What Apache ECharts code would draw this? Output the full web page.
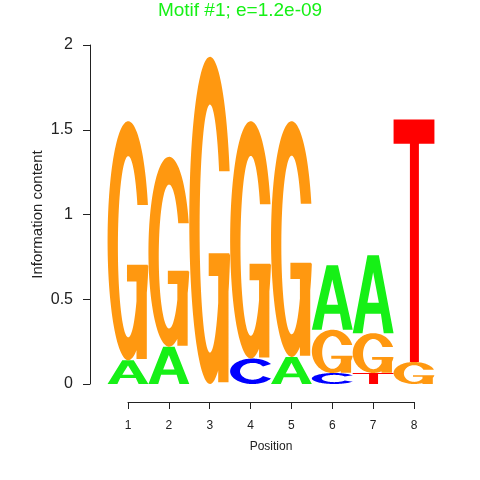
<!DOCTYPE html>
<html>
<head>
<meta charset="utf-8">
<script src="https://cdn.jsdelivr.net/npm/echarts@6/dist/echarts.min.js"></script>
<style>html,body{margin:0;padding:0;background:#fff}#c{width:480px;height:480px}</style>
</head>
<body>
<div id="c"></div>
<script>
// ---- data ----
const positions = [1, 2, 3, 4, 5, 6, 7, 8];
const bases = ['A', 'C', 'G', 'T'];
const heightA = [0.14, 0.22, 0.00, 0.00, 0.16, 0.38, 0.46, 0.00];
const heightC = [0.00, 0.00, 0.00, 0.15, 0.00, 0.065, 0.00, 0.00];
const heightG = [1.41, 1.12, 1.93, 1.40, 1.39, 0.255, 0.235, 0.13];
const heightT = [0.00, 0.00, 0.00, 0.00, 0.00, 0.00, 0.065, 1.43];
const yTicks = [0, 0.5, 1, 1.5, 2];
const titleText = 'Motif #1; e=1.2e-09';

// ---- glyph outlines (100x100 box) ----
function arc(cx, cy, rx, ry, a0, a1) {
  const pts = [];
  const n = Math.max(2, Math.ceil(Math.abs(a1 - a0) / 3));
  for (let i = 0; i <= n; i++) {
    const a = (a0 + (a1 - a0) * i / n) * Math.PI / 180;
    pts.push([cx + rx * Math.cos(a), cy + ry * Math.sin(a)]);
  }
  return pts;
}
function poly(pts) {
  return 'M' + pts.map(p => p[0].toFixed(2) + ' ' + p[1].toFixed(2)).join(' L') + ' Z';
}
function rect(x0, y0, x1, y1) {
  return poly([[x0, y0], [x1, y0], [x1, y1], [x0, y1]]);
}
const glyphA = 'M0 100 L36 0 L64 0 L100 100 L76 100 L69 75 L31 75 L24 100 Z M36 61 L64 61 L50 22 Z';
const glyphT = rect(0, 0, 100, 10) + ' ' + rect(40, 0, 62, 100);
const glyphC = poly(arc(50, 50, 50, 50, 35, 325).concat(arc(50, 50, 28, 33, 325, 35)));
const glyphG = poly(arc(50, 50, 50, 50, 12, 342.54).concat(arc(50, 52.5, 25, 37.9, 332.5, 12)))
  + ' ' + rect(47, 60, 97, 67) + ' ' + rect(70, 60, 95, 99.5);
const glyphs = { A: glyphA, C: glyphC, G: glyphG, T: glyphT };
const colors = { A: '#16F016', C: '#0000FF', G: '#FF9810', T: '#FF0000' };

// ---- stack letters per position (smallest at bottom) ----
const heights = { A: heightA, C: heightC, G: heightG, T: heightT };
const items = [];
positions.forEach((p, i) => {
  const col = bases.map(b => ({ b, h: heights[b][i] })).filter(d => d.h > 0)
    .sort((a, b) => a.h - b.h);
  let cum = 0;
  col.forEach(d => {
    items.push([p, cum, cum + d.h, bases.indexOf(d.b)]);
    cum += d.h;
  });
});

const font = 'Liberation Sans, Arial, Helvetica, sans-serif';
const chart = echarts.init(document.getElementById('c'), null, { renderer: 'canvas' });
chart.setOption({
  animation: false,
  backgroundColor: '#fff',
  title: {
    text: titleText, left: 'center', top: 1, padding: 0,
    textStyle: { color: '#16F016', fontSize: 19, fontWeight: 'normal', fontFamily: font }
  },
  grid: { left: 128, right: 66, top: 45, bottom: 96 },
  xAxis: {
    type: 'value', min: 1, max: 8, interval: 1, offset: 18,
    axisLine: { show: true, onZero: false, lineStyle: { color: '#222', width: 1 } },
    axisTick: { show: true, length: 7, lineStyle: { color: '#222' } },
    axisLabel: { fontSize: 12, margin: 18, color: '#222', fontFamily: font },
    splitLine: { show: false },
    name: 'Position', nameLocation: 'middle', nameGap: 39, nameMoveOverlap: false,
    nameTextStyle: { fontSize: 12, color: '#222', fontFamily: font }
  },
  yAxis: {
    type: 'value', min: yTicks[0], max: yTicks[yTicks.length - 1], interval: 0.5, offset: 38,
    axisLine: { show: true, onZero: false, lineStyle: { color: '#222', width: 1 } },
    axisTick: { show: true, length: 7, lineStyle: { color: '#222' } },
    axisLabel: { fontSize: 16, margin: 17, color: '#222', fontFamily: font },
    splitLine: { show: false },
    name: 'Information content', nameLocation: 'middle', nameGap: 45, nameRotate: 90, nameMoveOverlap: false,
    nameTextStyle: { fontSize: 15, color: '#222', fontFamily: font }
  },
  series: [{
    type: 'custom',
    data: items,
    encode: { x: 0, y: [1, 2] },
    renderItem: function (params, api) {
      const x = api.value(0), y0 = api.value(1), y1 = api.value(2);
      const b = bases[api.value(3)];
      const tl = api.coord([x - 0.5, y1]);
      const br = api.coord([x + 0.5, y0]);
      return {
        type: 'path',
        shape: { pathData: glyphs[b], x: tl[0], y: tl[1], width: br[0] - tl[0], height: br[1] - tl[1], layout: 'cover' },
        style: { fill: colors[b] }
      };
    }
  }]
});
</script>
</body>
</html>
